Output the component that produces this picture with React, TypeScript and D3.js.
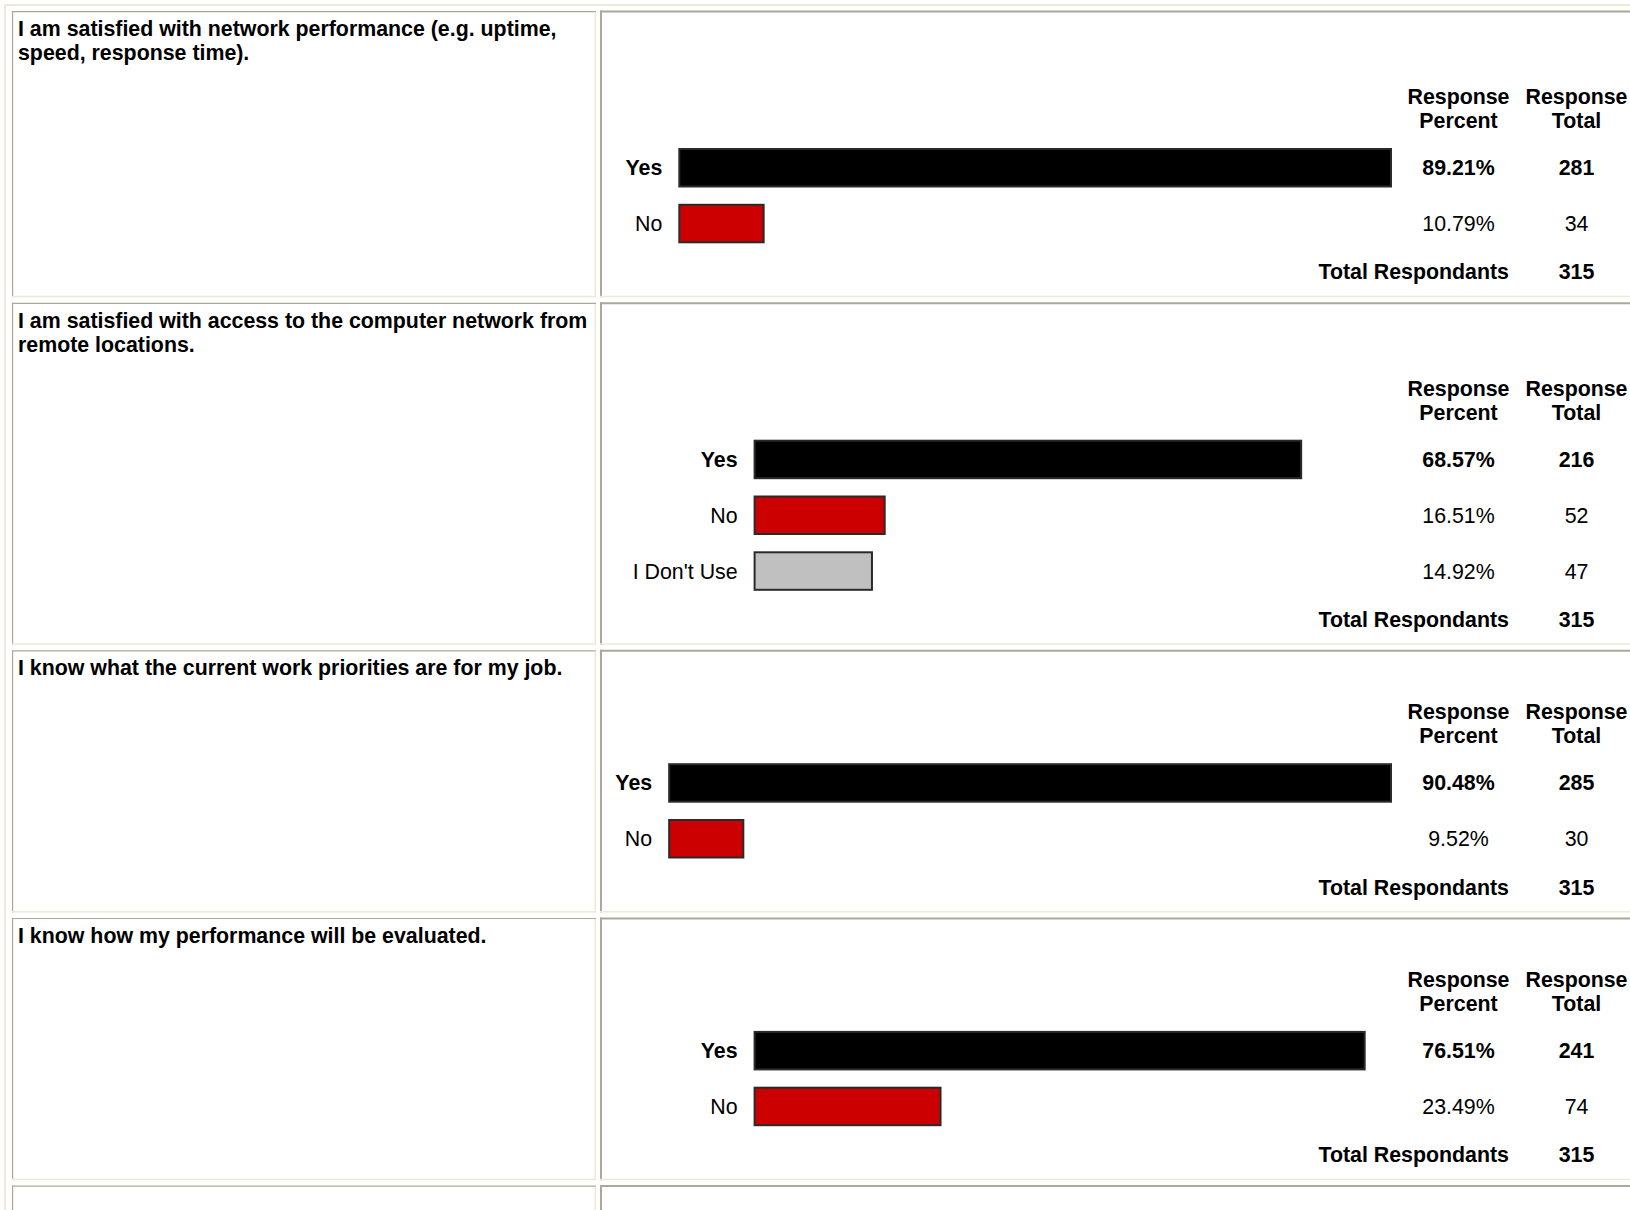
import React from "react";
import * as d3 from "d3";

// ---- Data ----
const questionTexts: string[][] = [
  ["I am satisfied with network performance (e.g. uptime,", "speed, response time)."],
  ["I am satisfied with access to the computer network from", "remote locations."],
  ["I know what the current work priorities are for my job."],
  ["I know how my performance will be evaluated."],
];
const optionLabels: string[][] = [
  ["Yes", "No"],
  ["Yes", "No", "I Don't Use"],
  ["Yes", "No"],
  ["Yes", "No"],
];
const responsePercents: number[][] = [
  [89.21, 10.79],
  [68.57, 16.51, 14.92],
  [90.48, 9.52],
  [76.51, 23.49],
];
const responseTotals: number[][] = [
  [281, 34],
  [216, 52, 47],
  [285, 30],
  [241, 74],
];
const totalRespondants: number[] = [315, 315, 315, 315];
const headerPercent = ["Response", "Percent"];
const headerTotal = ["Response", "Total"];
const totalLabel = "Total Respondants";

// ---- Styles ----
const optionColors: Record<string, string> = {
  Yes: "#000000",
  No: "#cc0000",
  "I Don't Use": "#c0c0c0",
};
const FONT = "'Liberation Sans', Arial, Helvetica, sans-serif";
const FS = 21.35;
const W = 1630;
const H = 1210;
const DARK = "#aca899";
const LIGHT = "#ece9d8";

export default function App() {
  const x = d3.scaleLinear().domain([0, 100]).range([0, 800]);
  const barEnd = 1392;
  const maxStart = 753.6;
  const pctX = 1458.5;
  const totX = 1576.5;
  const totLabelX = 1509;
  const fmt = d3.format(".2f");

  const rows: any[] = [];
  let top = 11;
  questionTexts.forEach((lines, i) => {
    const L = lines.length;
    const opts = optionLabels[i];
    const n = opts.length;
    const yesTop = top + 89 + 24 * L;
    const barY = d3
      .scaleLinear()
      .domain([0, 1])
      .range([yesTop, yesTop + 55.8]);
    const tops = opts.map((_, j) => barY(j));
    const maxBar = x(d3.max(responsePercents[i]) as number);
    const start = Math.min(maxStart, barEnd - maxBar);
    const h1 = yesTop - 51.5;
    const totalC = tops[n - 1] + 19.5 + 48.6;
    const bottom = totalC + 25.4;
    rows.push({ i, top, bottom, lines, opts, tops, start, h1, totalC });
    top = bottom + 5.4;
  });
  const lastTop = top;

  const cell = (x0: number, y0: number, x1: number, y1: number, tw: number, key: string) => (
    <g key={key}>
      <line x1={x0} y1={y0 + tw / 2} x2={x1} y2={y0 + tw / 2} stroke={DARK} strokeWidth={tw} />
      <line x1={x0 + tw / 2} y1={y0} x2={x0 + tw / 2} y2={y1} stroke={DARK} strokeWidth={tw} />
      <line x1={x0} y1={y1 - 0.75} x2={x1} y2={y1 - 0.75} stroke={LIGHT} strokeWidth={1.5} />
      <line x1={x1 - 0.75} y1={y0 + tw} x2={x1 - 0.75} y2={y1} stroke={LIGHT} strokeWidth={1.5} />
    </g>
  );

  return (
    <div style={{ position: "absolute", left: 0, top: 0 }}>
      <svg width={W} height={H} style={{ display: "block", background: "#fff" }} fontFamily={FONT} fontSize={FS}>
        <rect x={0} y={0} width={W} height={H} fill="#fff" />
        {/* outer table border */}
        <line x1={4} y1={5} x2={W} y2={5} stroke={LIGHT} strokeWidth={2} />
        <line x1={5} y1={4} x2={5} y2={H} stroke={LIGHT} strokeWidth={2} />
        {rows.map((r) => (
          <g key={r.i}>
            {cell(12, r.top, 596, r.bottom, 1.2, "l" + r.i)}
            {cell(600, r.top - 0.5, W + 20, r.bottom, 2, "r" + r.i)}
            {r.lines.map((t: string, k: number) => (
              <text key={k} x={18} y={r.top + 25 + 24 * k} fontWeight="bold" fill="#000">
                {t}
              </text>
            ))}
            {/* headers */}
            {headerPercent.map((t, k) => (
              <text key={"hp" + k} x={pctX} y={r.h1 + 7.5 + 24 * k} textAnchor="middle" fontWeight="bold">
                {t}
              </text>
            ))}
            {headerTotal.map((t, k) => (
              <text key={"ht" + k} x={totX} y={r.h1 + 7.5 + 24 * k} textAnchor="middle" fontWeight="bold">
                {t}
              </text>
            ))}
            {r.opts.map((o: string, j: number) => {
              const v = responsePercents[r.i][j];
              const bold = j === 0;
              const yc = r.tops[j] + 19.75;
              return (
                <g key={"o" + j}>
                  <text x={r.start - 16} y={yc + 7.5} textAnchor="end" fontWeight={bold ? "bold" : "normal"}>
                    {o}
                  </text>
                  <rect
                    x={r.start + 1}
                    y={r.tops[j] + 1}
                    width={Math.max(0, x(v) - 2)}
                    height={37.5}
                    fill={optionColors[o]}
                    stroke="#2a2a2a"
                    strokeWidth={2}
                  />
                  <text x={pctX} y={yc + 7.5} textAnchor="middle" fontWeight={bold ? "bold" : "normal"}>
                    {fmt(v) + "%"}
                  </text>
                  <text x={totX} y={yc + 7.5} textAnchor="middle" fontWeight={bold ? "bold" : "normal"}>
                    {responseTotals[r.i][j]}
                  </text>
                </g>
              );
            })}
            <text x={totLabelX} y={r.totalC + 7.5} textAnchor="end" fontWeight="bold">
              {totalLabel}
            </text>
            <text x={totX} y={r.totalC + 7.5} textAnchor="middle" fontWeight="bold">
              {totalRespondants[r.i]}
            </text>
          </g>
        ))}
        {cell(12, lastTop, 596, H + 40, 1.2, "l5")}
        {cell(600, lastTop - 0.5, W + 20, H + 40, 2, "r5")}
      </svg>
    </div>
  );
}
